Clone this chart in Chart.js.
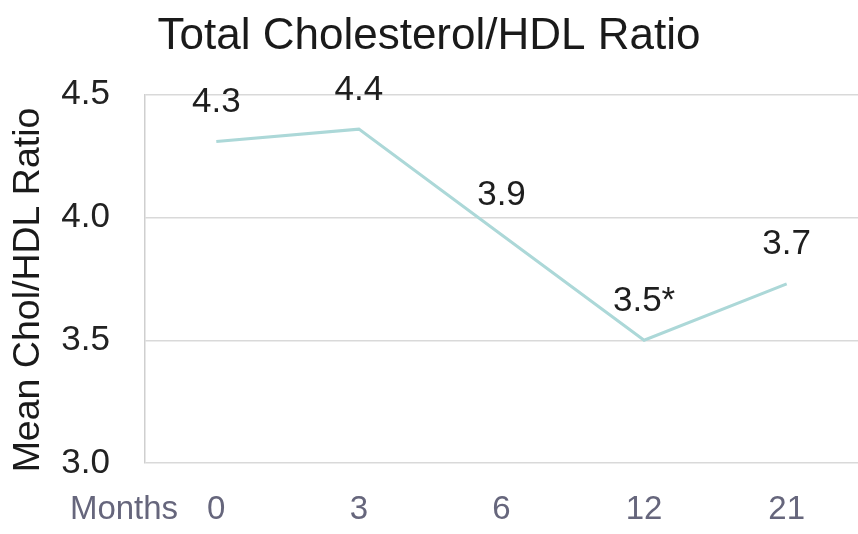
<!DOCTYPE html>
<html>
<head>
<meta charset="utf-8">
<script src="https://cdn.jsdelivr.net/npm/chart.js@4.4.1/dist/chart.umd.min.js"></script>
<style>
  html, body { margin: 0; padding: 0; background: #ffffff; }
  #c { display: block; }
</style>
</head>
<body>
<canvas id="c" width="858" height="534"></canvas>
<script>
// ---- data ----
const months = ['0', '3', '6', '12', '21'];
const ratioValues = [4.31, 4.36, 3.93, 3.50, 3.73];
const pointLabels = ['4.3', '4.4', '3.9', '3.5*', '3.7'];
const yTicks = [3.0, 3.5, 4.0, 4.5];
const chartTitle = 'Total Cholesterol/HDL Ratio';
const yAxisTitle = 'Mean Chol/HDL Ratio';
const xAxisCaption = 'Months';

const mainFont = "'Liberation Sans', Arial, sans-serif";

const labelPlugin = {
  id: 'pointValueLabels',
  afterDatasetsDraw(chart) {
    const ctx = chart.ctx;
    const meta = chart.getDatasetMeta(0);
    ctx.save();
    ctx.font = '35px ' + mainFont;
    ctx.fillStyle = '#1e1e1e';
    ctx.textAlign = 'center';
    ctx.textBaseline = 'middle';
    meta.data.forEach((pt, i) => {
      ctx.fillText(pointLabels[i], pt.x, pt.y - 39);
    });
    ctx.restore();
  },
  afterDraw(chart) {
    const ctx = chart.ctx;
    const xs = chart.scales.x;
    ctx.save();
    // x-axis caption
    ctx.font = '33px ' + mainFont;
    ctx.fillStyle = '#66667c';
    ctx.textAlign = 'center';
    ctx.textBaseline = 'middle';
    ctx.fillText(xAxisCaption, 124, xs.top + 47);
    // y-axis title
    ctx.font = '37.5px ' + mainFont;
    ctx.fillStyle = '#1a1a1a';
    ctx.translate(29, 290);
    ctx.rotate(-Math.PI / 2);
    ctx.fillText(yAxisTitle, 0, 0);
    ctx.restore();
  }
};

new Chart(document.getElementById('c'), {
  type: 'line',
  data: {
    labels: months,
    datasets: [{
      data: ratioValues,
      borderColor: '#acd8d8',
      borderWidth: 3,
      pointRadius: 0,
      pointHoverRadius: 0,
      tension: 0,
      fill: false
    }]
  },
  options: {
    responsive: false,
    animation: false,
    events: [],
    layout: { padding: { left: 0, right: 0, top: 0, bottom: 0 } },
    plugins: {
      legend: { display: false },
      tooltip: { enabled: false },
      title: {
        display: true,
        text: chartTitle,
        color: '#1a1a1a',
        font: { family: mainFont, size: 44, weight: 'normal' },
        padding: { top: 10, bottom: 32 }
      }
    },
    scales: {
      x: {
        offset: true,
        grid: { display: false, drawTicks: false },
        border: { display: false },
        ticks: {
          color: '#66667c',
          font: { family: mainFont, size: 33 },
          padding: 27,
          maxRotation: 0,
          autoSkip: false
        },
        afterFit(scale) { scale.height = 71; }
      },
      y: {
        min: yTicks[0],
        max: yTicks[yTicks.length - 1],
        afterBuildTicks(scale) { scale.ticks = yTicks.map(v => ({ value: v })); },
        grid: { color: '#d9d9d9', lineWidth: 1.5, drawTicks: false },
        border: { display: true, color: '#cfcfcf', width: 1.5 },
        ticks: {
          color: '#222222',
          font: { family: mainFont, size: 35 },
          padding: 35,
          callback: v => Number(v).toFixed(1)
        },
        title: { display: false },
        afterFit(scale) { scale.width = 145; }
      }
    }
  },
  plugins: [labelPlugin]
});
</script>
</body>
</html>
